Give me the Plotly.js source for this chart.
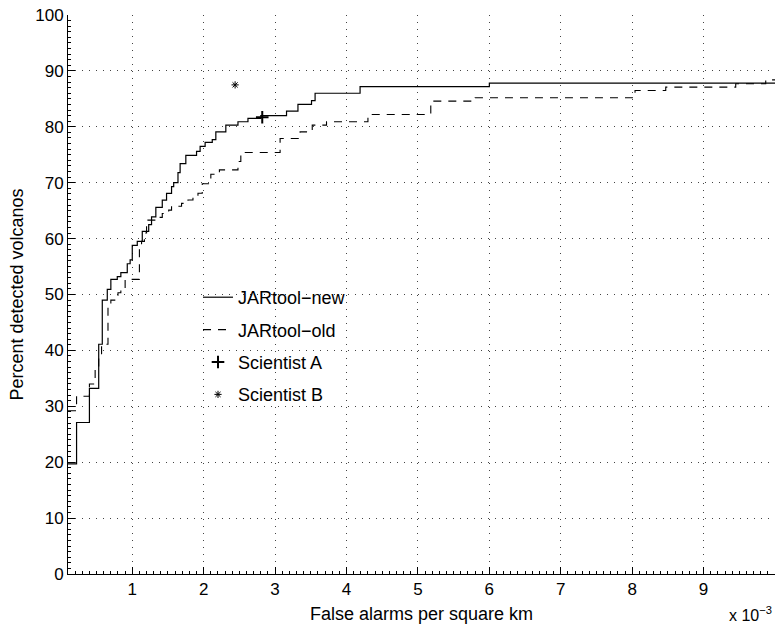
<!DOCTYPE html>
<html>
<head>
<meta charset="utf-8">
<script src="https://cdn.plot.ly/plotly-3.0.1.min.js"></script>
<style>
html,body{margin:0;padding:0;background:#fff;}
#chart{width:775px;height:627px;}
</style>
</head>
<body>
<div id="chart"></div>
<script>
// JARtool-new (solid) staircase, x in units of 1e-3 false alarms per km^2
const xNew = [0.10,0.22,0.40,0.53,0.58,0.65,0.70,0.79,0.84,0.93,0.97,1.00,1.07,1.14,1.23,1.27,1.33,1.42,1.48,1.55,1.58,1.64,1.67,1.75,1.90,1.95,2.02,2.12,2.17,2.31,2.48,2.62,2.80,3.16,3.32,3.51,3.56,4.19,6.00,10.0];
const yNew = [19.7,27.1,33.2,41.1,49.0,50.9,52.7,53.2,53.9,55.5,56.2,58.8,59.5,61.3,62.5,63.9,65.6,66.9,68.1,69.3,70.0,71.8,73.4,74.9,75.6,76.5,77.2,77.7,79.1,80.3,80.9,81.5,82.0,82.8,84.0,84.7,86.0,87.2,87.8,87.8];
// JARtool-old (dashed) staircase
const xOld = [0.10,0.22,0.40,0.48,0.53,0.57,0.66,0.70,0.80,0.84,0.90,1.10,1.13,1.17,1.20,1.35,1.42,1.51,1.55,1.69,1.78,1.85,1.92,1.98,2.10,2.22,2.48,2.52,3.07,3.35,3.52,3.72,4.30,5.18,5.80,8.04,8.47,9.45,9.87,10.0];
const yOld = [29.2,31.8,34.0,36.8,38.8,41.1,47.8,49.0,50.3,50.9,52.7,58.0,59.5,61.0,63.3,63.8,64.5,65.1,65.8,66.3,66.9,67.4,68.1,69.8,71.5,72.3,73.8,75.4,77.9,79.1,80.3,80.9,82.2,84.6,85.2,86.5,87.1,87.7,88.4,88.4];
// Human scientists
const xSciA = [2.82];
const ySciA = [81.7];
const xSciB = [2.44];
const ySciB = [87.5];
const xTicks = [1,2,3,4,5,6,7,8,9];
const yTicks = [0,10,20,30,40,50,60,70,80,90,100];

const FONT = "'Liberation Sans', Arial, Helvetica, sans-serif";

const traces = [
  {x: xNew, y: yNew, type: 'scatter', mode: 'lines', name: 'JARtool\u2212new',
   line: {color: '#000', width: 1.2, shape: 'hv'}, legendgroup: 'a'},
  {x: xOld, y: yOld, type: 'scatter', mode: 'lines', name: 'JARtool\u2212old',
   line: {color: '#000', width: 1.1, shape: 'hv', dash: '8px,7px'}, legendgroup: 'b'},
  {x: xSciA, y: ySciA, type: 'scatter', mode: 'markers', name: 'Scientist A',
   marker: {symbol: 'cross-thin-open', size: 9, color: '#000', line: {color: '#000', width: 2}}, legendgroup: 'c'},
  {x: xSciB, y: ySciB, type: 'scatter', mode: 'markers', name: 'Scientist B',
   marker: {symbol: 'asterisk-open', size: 6, color: '#000', line: {color: '#000', width: 1}}, legendgroup: 'd'}
];

const layout = {
  width: 775, height: 627,
  margin: {l: 68, r: 0, t: 15, b: 53},
  paper_bgcolor: '#fff', plot_bgcolor: '#fff',
  font: {family: FONT, size: 17, color: '#000'},
  showlegend: true,
  legend: {x: (198-68)/707, xanchor: 'left', y: (574-279)/559, yanchor: 'top',
           bgcolor: 'rgba(0,0,0,0)', borderwidth: 0, font: {family: FONT, size: 18, color: '#000'},
           tracegroupgap: 6, itemwidth: 30},
  xaxis: {
    range: [0.1, 10], tickmode: 'array', tickvals: xTicks, ticktext: xTicks.map(String),
    ticks: 'inside', ticklen: 7, tickcolor: '#000', tickwidth: 1,
    showline: true, linecolor: '#000', linewidth: 1, mirror: false,
    showgrid: true, gridcolor: '#444', griddash: '1px,6px', gridwidth: 1,
    zeroline: false, tickfont: {size: 17},
    minor: {dtick: 0.1, ticks: 'inside', ticklen: 3, tickcolor: '#000', showgrid: false},
    title: {text: 'False alarms per square km', font: {size: 18}, standoff: 8}
  },
  yaxis: {
    range: [0, 100], tickmode: 'array', tickvals: yTicks, ticktext: yTicks.map(String),
    ticks: 'inside', ticklen: 7, tickcolor: '#000', tickwidth: 1,
    showline: true, linecolor: '#000', linewidth: 1, mirror: false,
    showgrid: true, gridcolor: '#444', griddash: '1px,6px', gridwidth: 1,
    zeroline: false, tickfont: {size: 17},
    minor: {dtick: 1, ticks: 'inside', ticklen: 3, tickcolor: '#000', showgrid: false},
    title: {text: 'Percent detected volcanos', font: {size: 18}, standoff: 6}
  },
  annotations: [
    {text: 'x 10<sup>\u22123</sup>', xref: 'paper', yref: 'paper', x: 0.998, y: (574-626)/559,
     xanchor: 'right', yanchor: 'bottom', showarrow: false, font: {size: 16, color: '#000'}}
  ]
};

Plotly.newPlot('chart', traces, layout, {displayModeBar: false, staticPlot: true});
</script>
</body>
</html>
